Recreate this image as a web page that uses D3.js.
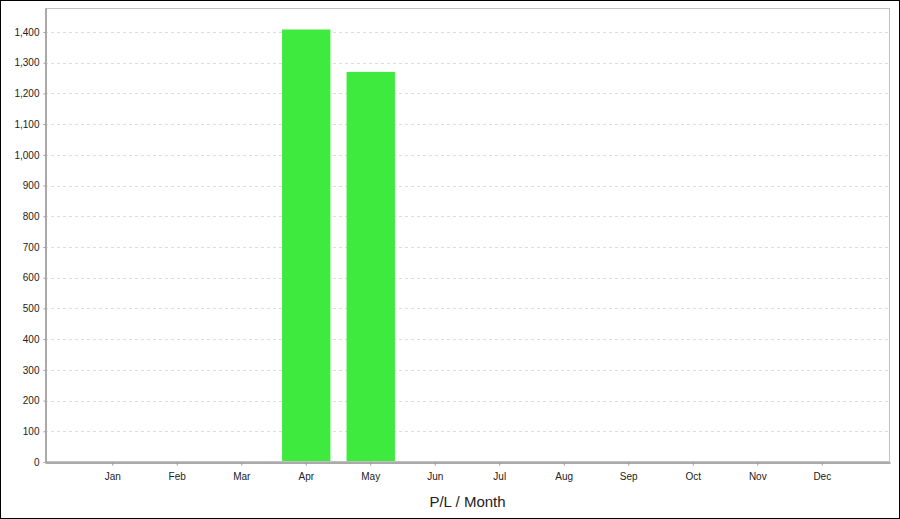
<!DOCTYPE html>
<html><head><meta charset="utf-8">
<script src="https://cdn.jsdelivr.net/npm/d3@7"></script>
<style>body{margin:0;background:#fff}svg{display:block}</style>
</head><body>
<script>
const months = ["Jan","Feb","Mar","Apr","May","Jun","Jul","Aug","Sep","Oct","Nov","Dec"];
const values = [0,0,0,1408,1270,0,0,0,0,0,0,0];
const yTicks = [0,100,200,300,400,500,600,700,800,900,1000,1100,1200,1300,1400];
const title = "P/L / Month";

const W=900,H=519;
const L=45,R=890,T=8,B=462;
const svg=d3.select("body").append("svg").attr("width",W).attr("height",H);
svg.append("rect").attr("x",0.5).attr("y",0.5).attr("width",W-1).attr("height",H-1).attr("fill","#fff").attr("stroke","#000");

const x=d3.scaleBand().domain(months).range([L,R]).paddingInner(0.25).paddingOuter(0.675);
const y=d3.scaleLinear().domain([0,1478]).range([B,T]);

svg.append("g").selectAll("line").data(yTicks.slice(1)).join("line")
 .attr("x1",L).attr("x2",R).attr("y1",d=>Math.round(y(d))+0.5).attr("y2",d=>Math.round(y(d))+0.5)
 .attr("stroke","#dedede").attr("stroke-dasharray","3,3");

svg.append("g").selectAll("rect").data(months.map((m,i)=>({m,v:values[i]})).filter(d=>d.v>0)).join("rect")
 .attr("x",d=>x(d.m)).attr("width",x.bandwidth()).attr("y",d=>y(d.v)).attr("height",d=>B-y(d.v))
 .attr("fill","#3fea3f");

svg.append("rect").attr("x",L+0.5).attr("y",T+0.5).attr("width",R-L-1).attr("height",B-T-1)
 .attr("fill","none").attr("stroke","#c0c0c0");

const ya=svg.append("g").attr("transform",`translate(${L+0.5},0)`)
 .call(d3.axisLeft(y).tickValues(yTicks).tickSize(2).tickSizeOuter(0).tickPadding(4).tickFormat(d3.format(",")));
const xa=svg.append("g").attr("transform",`translate(0,${B+0.5})`)
 .call(d3.axisBottom(x).tickSize(3).tickSizeOuter(0).tickPadding(7));
[ya,xa].forEach(g=>{
 g.selectAll("path").attr("stroke","#aaa").attr("stroke-width",2);
 g.selectAll("line").attr("stroke","#999");
 g.selectAll("text").attr("font-family","Liberation Sans, Arial, sans-serif").attr("font-size",10).attr("fill","#222");
});

svg.append("text").attr("x",(L+R)/2).attr("y",507).attr("text-anchor","middle")
 .attr("font-family","Liberation Sans, Arial, sans-serif").attr("font-size",15).attr("fill","#222").text(title);
</script>
</body></html>
